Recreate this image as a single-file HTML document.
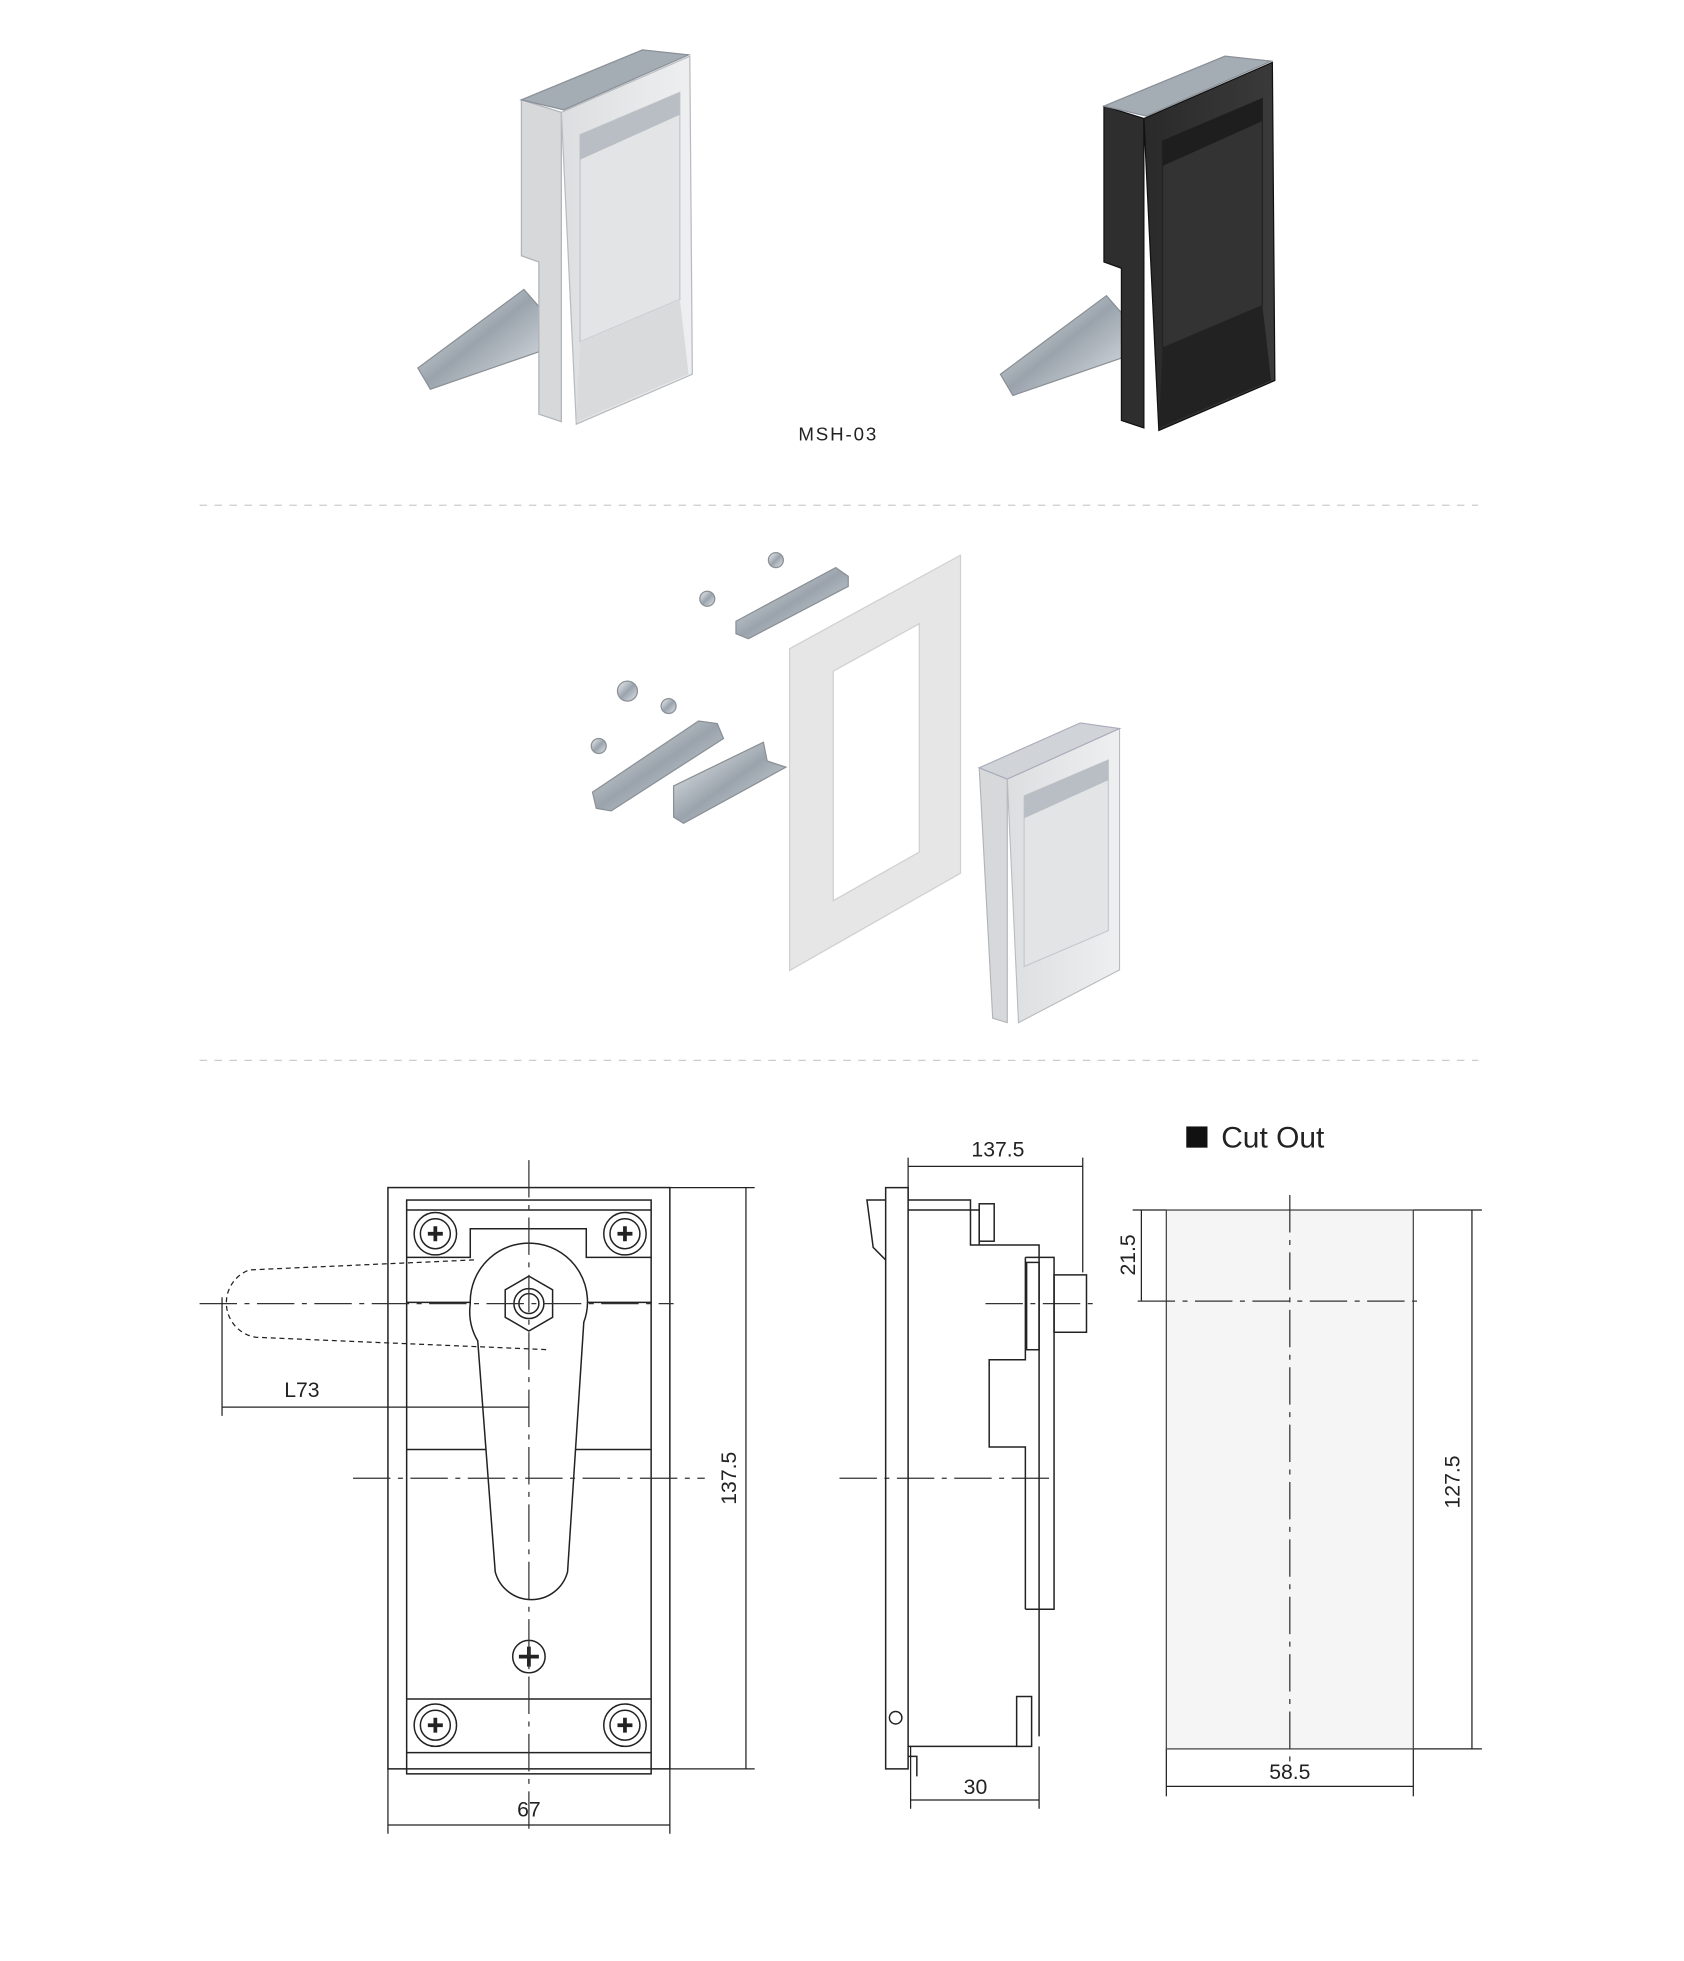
<!DOCTYPE html>
<html><head><meta charset="utf-8"><style>
html,body{margin:0;padding:0;background:#fff;}
svg{display:block;}
text{font-family:"Liberation Sans",sans-serif;fill:#222;}
</style></head><body>
<svg width="1684" height="1961" viewBox="0 0 1350 1572" xmlns="http://www.w3.org/2000/svg">
<defs>
<linearGradient id="met" x1="0" y1="0" x2="1" y2="1"><stop offset="0" stop-color="#f2f4f6"/><stop offset="0.5" stop-color="#9aa3ac"/><stop offset="1" stop-color="#e0e4e8"/></linearGradient>
<linearGradient id="sil" x1="0" y1="0" x2="1" y2="0"><stop offset="0" stop-color="#dcdee0"/><stop offset="1" stop-color="#eeeff0"/></linearGradient>
<linearGradient id="blk" x1="0" y1="0" x2="1" y2="0"><stop offset="0" stop-color="#2a2a2a"/><stop offset="1" stop-color="#3a3a3a"/></linearGradient>
</defs>

<!-- Silver latch -->
<g>
<polygon points="335,295 420,232 434,248 432,282 345,312" fill="url(#met)" stroke="#8a9096" stroke-width="1"/>
<polygon points="418,80 450,90 450,338 432,332 432,210 418,205" fill="#d6d8da" stroke="#b0b4b8" stroke-width="1"/>
<polygon points="450,90 553,45 555,300 462,340" fill="url(#sil)" stroke="#b8bcc0" stroke-width="1"/>
<polygon points="465,108 545,74 545,240 465,274" fill="#e2e4e6" stroke="#c4c8cc"/>
<polygon points="465,108 545,74 545,92 465,128" fill="#b8bec4"/>
<polygon points="418,80 515,40 552,44 452,88" fill="#a4acb4" stroke="#8a9098"/>
<polygon points="465,274 545,240 552,300 462,338" fill="#d8dadc"/>
</g>
<!-- Black latch -->
<g transform="translate(467,5)">
<polygon points="335,295 420,232 434,248 432,282 345,312" fill="url(#met)" stroke="#8a9096" stroke-width="1"/>
<polygon points="418,80 450,90 450,338 432,332 432,210 418,205" fill="#2e2e2e" stroke="#111"/>
<polygon points="450,90 553,45 555,300 462,340" fill="url(#blk)" stroke="#111"/>
<polygon points="465,108 545,74 545,240 465,274" fill="#333" stroke="#222"/>
<polygon points="465,108 545,74 545,92 465,128" fill="#1e1e1e"/>
<polygon points="418,80 515,40 552,44 452,88" fill="#a4acb4" stroke="#8a9098"/>
<polygon points="465,274 545,240 552,300 462,338" fill="#222"/>
</g>
<text x="672" y="353" font-size="15" text-anchor="middle" letter-spacing="1.5">MSH-03</text>

<line x1="160" y1="405" x2="1185" y2="405" stroke="#ccc" stroke-width="1" stroke-dasharray="6,6"/>

<!-- Exploded view -->
<polygon points="633,520 770,445 770,700 633,778" fill="#e6e6e6" stroke="#d0d0d0"/>
<polygon points="668,538 737,500 737,683 668,722" fill="#fff" stroke="#d0d0d0"/>
<polygon points="590,498 670,455 680,462 680,470 600,512 590,508" fill="url(#met)" stroke="#8a9096"/>
<polygon points="475,635 560,578 575,580 580,592 490,650 478,648" fill="url(#met)" stroke="#8a9096"/>
<polygon points="540,630 612,595 615,610 630,615 548,660 540,655" fill="url(#met)" stroke="#8a9096"/>
<circle cx="622" cy="449" r="6" fill="url(#met)" stroke="#8a9096"/>
<circle cx="567" cy="480" r="6" fill="url(#met)" stroke="#8a9096"/>
<circle cx="503" cy="554" r="8" fill="url(#met)" stroke="#8a9096"/>
<circle cx="536" cy="566" r="6" fill="url(#met)" stroke="#8a9096"/>
<circle cx="480" cy="598" r="6" fill="url(#met)" stroke="#8a9096"/>
<g transform="translate(785,575) scale(0.9)">
<polygon points="0,45 25,55 25,272 12,268" fill="#d6d8da" stroke="#b0b4b8"/>
<polygon points="25,55 125,10 125,225 35,272" fill="url(#sil)" stroke="#b8bcc0"/>
<polygon points="40,70 115,38 115,190 40,222" fill="#e2e4e6" stroke="#c4c8cc"/>
<polygon points="40,70 115,38 115,56 40,90" fill="#b8bec4"/>
<polygon points="0,45 90,5 125,10 25,55" fill="#d0d4d8" stroke="#aab"/>
</g>

<line x1="160" y1="850" x2="1185" y2="850" stroke="#ccc" stroke-width="1" stroke-dasharray="6,6"/>

<!-- Front view drawing -->
<g fill="none" stroke="#222" stroke-width="1.2">
<rect x="311" y="952" width="226" height="466"/>
<rect x="326" y="962" width="196" height="460"/>
<line x1="326" y1="970" x2="522" y2="970"/>
<polyline points="326,1008 377,1008 377,985 470,985 470,1008 522,1008"/>
<line x1="326" y1="1044" x2="522" y2="1044"/>
<line x1="326" y1="1162" x2="522" y2="1162"/>
<line x1="326" y1="1362" x2="522" y2="1362"/>
<line x1="326" y1="1405" x2="522" y2="1405"/>
<g id="scr"><circle cx="349" cy="989" r="17"/><circle cx="349" cy="989" r="12"/><path d="M343,989h12M349,983v12" stroke-width="3"/></g>
<use href="#scr" x="152"/><use href="#scr" y="394"/><use href="#scr" x="152" y="394"/>
<path d="M377,1045 A47,47 0 1 1 468,1060 L455,1260 A30,30 0 0 1 397,1260 L383,1075 A47,47 0 0 1 377,1045Z" fill="#fff"/>
<polygon points="424,1023 443,1034 443,1056 424,1067 405,1056 405,1034" fill="#fff"/>
<circle cx="424" cy="1045" r="12"/><circle cx="424" cy="1045" r="8"/>
<circle cx="424" cy="1328" r="13"/><path d="M416,1328h16M424,1320v16" stroke-width="3"/>
<path d="M380,1010 L200,1018 A28,28 0 0 0 205,1072 L440,1082" stroke-dasharray="4,3" stroke-width="1"/>
</g>
<g stroke="#333" stroke-width="1" stroke-dasharray="30,6,4,6" fill="none">
<line x1="424" y1="930" x2="424" y2="1468"/>
<line x1="160" y1="1045" x2="540" y2="1045"/>
<line x1="283" y1="1185" x2="565" y2="1185"/>
<line x1="673" y1="1185" x2="845" y2="1185"/>
<line x1="790" y1="1045" x2="880" y2="1045"/>
</g>
<!-- dims -->
<g stroke="#222" stroke-width="1" fill="none">
<line x1="178" y1="1040" x2="178" y2="1135"/><line x1="178" y1="1128" x2="424" y2="1128"/>
<line x1="537" y1="952" x2="605" y2="952"/><line x1="537" y1="1418" x2="605" y2="1418"/><line x1="598" y1="952" x2="598" y2="1418"/>
<line x1="311" y1="1418" x2="311" y2="1470"/><line x1="537" y1="1418" x2="537" y2="1470"/><line x1="311" y1="1463" x2="537" y2="1463"/>
<line x1="728" y1="928" x2="728" y2="962"/><line x1="868" y1="928" x2="868" y2="1020"/><line x1="728" y1="935" x2="868" y2="935"/>
<line x1="730" y1="1400" x2="730" y2="1450"/><line x1="833" y1="1400" x2="833" y2="1450"/><line x1="730" y1="1443" x2="833" y2="1443"/>
<line x1="908" y1="970" x2="935" y2="970"/><line x1="915" y1="970" x2="915" y2="1043"/>
<line x1="1133" y1="970" x2="1188" y2="970"/><line x1="1133" y1="1402" x2="1188" y2="1402"/><line x1="1180" y1="970" x2="1180" y2="1402"/>
<line x1="935" y1="1402" x2="935" y2="1440"/><line x1="1133" y1="1402" x2="1133" y2="1440"/><line x1="935" y1="1432" x2="1133" y2="1432"/>
</g>
<text x="242" y="1120" font-size="17" text-anchor="middle">L73</text>
<text x="424" y="1456" font-size="17" text-anchor="middle">67</text>
<text transform="translate(590,1185) rotate(-90)" font-size="17" text-anchor="middle">137.5</text>
<text x="800" y="927" font-size="17" text-anchor="middle">137.5</text>
<text x="782" y="1438" font-size="17" text-anchor="middle">30</text>
<text transform="translate(910,1006) rotate(-90)" font-size="17" text-anchor="middle">21.5</text>
<text transform="translate(1170,1188) rotate(-90)" font-size="17" text-anchor="middle">127.5</text>
<text x="1034" y="1426" font-size="17" text-anchor="middle">58.5</text>

<!-- side view -->
<g fill="none" stroke="#222" stroke-width="1.2">
<polygon points="710,952 728,952 728,1418 710,1418"/>
<polyline points="710,962 695,962 700,1000 710,1010"/>
<polyline points="728,962 778,962 778,998 833,998 833,1392"/>
<polyline points="728,970 785,970 785,998"/>
<polyline points="822,1008 845,1008 845,1290 822,1290"/>
<polyline points="822,1008 822,1090 793,1090 793,1160 822,1160 822,1290"/>
<rect x="823" y="1012" width="10" height="70"/>
<rect x="845" y="1022" width="26" height="46"/>
<rect x="785" y="965" width="12" height="30"/>
<rect x="815" y="1360" width="12" height="40"/>
<polyline points="728,1400 815,1400"/>
<polyline points="728,1408 735,1408 735,1424"/>
<circle cx="718" cy="1377" r="5"/>
</g>

<!-- cut out -->
<rect x="951" y="903" width="17" height="17" fill="#111"/>
<text x="979" y="920" font-size="24" fill="#111">Cut Out</text>
<rect x="935" y="970" width="198" height="432" fill="#f5f5f5" stroke="#444" stroke-width="1"/>
<line x1="1034" y1="958" x2="1034" y2="1412" stroke="#333" stroke-width="1" stroke-dasharray="30,6,4,6"/>
<line x1="912" y1="1043" x2="1140" y2="1043" stroke="#333" stroke-width="1" stroke-dasharray="30,6,4,6"/>
</svg>
</body></html>
